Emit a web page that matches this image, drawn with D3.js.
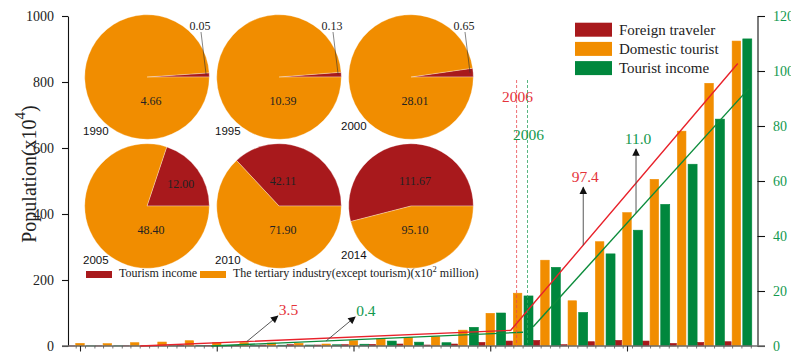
<!DOCTYPE html>
<html>
<head>
<meta charset="utf-8">
<script src="https://cdn.jsdelivr.net/npm/d3@7/dist/d3.min.js"></script>
<style>
  html, body { margin: 0; padding: 0; background: #fff; }
  svg { display: block; }
</style>
</head>
<body>
<svg id="chart" width="791" height="359" font-family="Liberation Serif, Times New Roman, serif"></svg>
<script>
// ---- data ----
const years = [1990, 1991, 1992, 1993, 1994, 1995, 1996, 1997, 1998, 1999,
               2000, 2001, 2002, 2003, 2004, 2005, 2006, 2007, 2008, 2009,
               2010, 2011, 2012, 2013, 2014];

// Population (x10^4), left axis
const foreignTraveler = [0.3, 0.4, 0.6, 0.8, 1.2, 1.5, 2, 3, 4, 3,
                         4, 5, 6, 3, 6, 11, 15, 17, 4, 13,
                         17, 15, 8, 11, 13];
const domesticTourist = [8, 7, 10, 12, 16, 10, 10, 9, 8, 6,
                         16, 21, 26, 28, 48, 99, 160, 260, 137, 316,
                         404, 505, 651, 796, 924];

// Tourist income (x10^2 million), right axis
const touristIncome = [0.05, 0.06, 0.08, 0.1, 0.12, 0.13, 0.2, 0.3, 0.35, 0.45,
                       0.65, 1.8, 1.4, 1.2, 6.8, 12.00, 18.2, 28.6, 12.2, 33.5,
                       42.11, 51.5, 66.1, 82.5, 111.67];

// Pie breakdowns (x10^2 million)
const pieYears = [1990, 1995, 2000, 2005, 2010, 2014];
const pieTourismIncome = [0.05, 0.13, 0.65, 12.00, 42.11, 111.67];
const pieTertiaryOther = [4.66, 10.39, 28.01, 48.40, 71.90, 95.10];

// Axis ticks
const leftTicks = [0, 200, 400, 600, 800, 1000];
const rightTicks = [0, 20, 40, 60, 80, 100, 120];
const majorYearTicks = [1990, 1995, 2000, 2005, 2010];

// Piecewise linear trend fits: [year, value]
const domesticTrend = [[1992.2, 0], [2005.75, 47.5], [2014.05, 856]];
const incomeTrendEarly = [[1994.8, 0], [2006.2, 5.0]];
const incomeTrendLate = [[2006.57, 7.0], [2014.45, 93.6]];
const breakYear = 2006;

// Slope annotations: which trend, year where the arrow leaves the line, label
const slopeNotes = [
  { trend: "domestic", year: 1996.1, label: "3.5",  dx: 31, dy: -25.5 },
  { trend: "income",   year: 1999.0, label: "0.4",  dx: 29, dy: -24 },
  { trend: "domestic", year: 2008.4, label: "97.4", dx: 0,  dy: -58 },
  { trend: "income",   year: 2010.33, label: "11.0", dx: 0, dy: -64 }
];

// ---- styling ----
const SERIF = "Liberation Serif, Times New Roman, serif";
const SANS = "Liberation Sans, Arial, sans-serif";
const C = {
  foreign: "#A8191C",
  domestic: "#F18D00",
  income: "#00873D",
  redLine: "#E8222B",
  greenLine: "#0B8C3B",
  redText: "#E5333B",
  greenText: "#12994F"
};

const svg = d3.select("#chart");
const base = 346, topY = 16;

const x = d3.scaleLinear().domain([1990, 2014]).range([80, 736.4]);
const yL = d3.scaleLinear().domain([0, 1000]).range([base, topY]);
const yR = d3.scaleLinear().domain([0, 120]).range([base, topY]);

// ---- bars ----
const series = [
  { values: foreignTraveler, scale: yL, color: C.foreign, dx: -8.5, w: 6.5 },
  { values: domesticTourist, scale: yL, color: C.domestic, dx: 0, w: 8.5 },
  { values: touristIncome, scale: yR, color: C.income, dx: 10.9, w: 9 }
];

series.forEach(s => {
  svg.append("g").selectAll("rect")
    .data(years.map((yr, i) => ({ yr, v: s.values[i] })))
    .join("rect")
    .attr("x", d => x(d.yr) + s.dx - s.w / 2)
    .attr("width", s.w)
    .attr("y", d => s.scale(d.v))
    .attr("height", d => base - s.scale(d.v))
    .attr("fill", s.color)
    .attr("stroke", s.color)
    .attr("stroke-width", 0.6);
});

// ---- axes ----
const gL = svg.append("g").attr("transform", "translate(68,0)")
  .call(d3.axisLeft(yL).tickValues(leftTicks).tickFormat(d3.format("d"))
    .tickSize(6).tickSizeOuter(0).tickPadding(8));
gL.select(".domain").attr("stroke", "#111").attr("stroke-width", 1.1);
gL.selectAll(".tick line").attr("stroke", "#111").attr("stroke-width", 1.1);
gL.selectAll(".tick text")
  .style("font-family", SERIF).style("font-size", "14px").attr("fill", "#222");

const gR = svg.append("g").attr("transform", "translate(757.5,0)")
  .call(d3.axisRight(yR).tickValues(rightTicks).tickFormat(d3.format("d"))
    .tickSize(7.5).tickSizeOuter(0).tickPadding(8));
gR.select(".domain").attr("stroke", "#111").attr("stroke-width", 1.1);
gR.selectAll(".tick line").attr("stroke", "#111").attr("stroke-width", 1.1);
gR.selectAll(".tick text")
  .style("font-family", SERIF).style("font-size", "14px").attr("fill", C.greenText);

// baseline
svg.append("line").attr("x1", 62).attr("x2", 765).attr("y1", base).attr("y2", base)
  .attr("stroke", "#6e6e6e").attr("stroke-width", 1.4);

// minor ticks between bars
const minorOffsets = [-3.8, 5.5, 14.9];
svg.append("g").selectAll("line")
  .data(years.flatMap(yr => minorOffsets.map(o => x(yr) + o)).filter(px => px < 757))
  .join("line")
  .attr("x1", d => d).attr("x2", d => d)
  .attr("y1", base).attr("y2", base + 2.5)
  .attr("stroke", "#555").attr("stroke-width", 0.8);

// major year ticks (unlabelled)
const gX = svg.append("g").attr("transform", `translate(0,${base})`)
  .call(d3.axisBottom(x).tickValues(majorYearTicks).tickSize(5.5).tickFormat(""));
gX.select(".domain").remove();
gX.selectAll(".tick line").attr("stroke", "#222").attr("stroke-width", 1.1);

// y-axis title
const title = svg.append("text")
  .attr("transform", "translate(36,174) rotate(-90)")
  .attr("text-anchor", "middle")
  .style("font-family", SERIF)
  .style("font-size", "20px")
  .attr("fill", "#222");
title.append("tspan").text("Population(x10");
title.append("tspan").attr("dy", -11).style("font-size", "15px").text("4");
title.append("tspan").attr("dy", 11).text(")");

// ---- trend lines ----
const lineL = d3.line().x(d => x(d[0])).y(d => yL(d[1]));
const lineR = d3.line().x(d => x(d[0])).y(d => yR(d[1]));

svg.append("path").attr("d", lineL(domesticTrend))
  .attr("fill", "none").attr("stroke", C.redLine).attr("stroke-width", 1.4);
[incomeTrendEarly, incomeTrendLate].forEach(seg => {
  svg.append("path").attr("d", lineR(seg))
    .attr("fill", "none").attr("stroke", C.greenLine).attr("stroke-width", 1.4);
});

// break-year markers
const breakMarks = [
  { dx: 0, color: "#E8474E", textColor: C.redText, ty: 102 },
  { dx: 10.9, color: "#2EA562", textColor: C.greenText, ty: 140 }
];
breakMarks.forEach(b => {
  const bx = x(breakYear) + b.dx - 1;
  svg.append("line").attr("x1", bx).attr("x2", bx).attr("y1", 80).attr("y2", base)
    .attr("stroke", b.color).attr("stroke-width", 0.8).attr("stroke-dasharray", "3,2");
  svg.append("text").attr("x", bx + 1).attr("y", b.ty)
    .attr("text-anchor", "middle").style("font-size", "15.5px")
    .attr("fill", b.textColor).text(String(breakYear));
});

// ---- slope annotations ----
const defs = svg.append("defs");
defs.append("marker")
  .attr("id", "arrowHead")
  .attr("viewBox", "0 0 10 10")
  .attr("refX", 9).attr("refY", 5)
  .attr("markerUnits", "userSpaceOnUse")
  .attr("markerWidth", 8.5).attr("markerHeight", 7.5)
  .attr("orient", "auto")
  .append("path").attr("d", "M0,0 L10,5 L0,10 Z").attr("fill", "#111");

function trendY(trend, yr) {
  if (trend === "domestic") {
    const pts = domesticTrend;
    for (let i = 0; i < pts.length - 1; i++) {
      if (yr <= pts[i + 1][0]) {
        const t = (yr - pts[i][0]) / (pts[i + 1][0] - pts[i][0]);
        return yL(pts[i][1] + t * (pts[i + 1][1] - pts[i][1]));
      }
    }
  }
  const seg = yr <= incomeTrendEarly[1][0] ? incomeTrendEarly : incomeTrendLate;
  const t = (yr - seg[0][0]) / (seg[1][0] - seg[0][0]);
  return yR(seg[0][1] + t * (seg[1][1] - seg[0][1]));
}

slopeNotes.forEach(n => {
  const x0 = x(n.year), y0 = trendY(n.trend, n.year);
  const x1 = x0 + n.dx, y1 = y0 + n.dy;
  svg.append("line")
    .attr("x1", x0).attr("y1", y0).attr("x2", x1).attr("y2", y1)
    .attr("stroke", "#444").attr("stroke-width", 0.9)
    .attr("marker-end", "url(#arrowHead)");
  const color = n.trend === "domestic" ? C.redText : C.greenText;
  const vertical = n.dx === 0;
  svg.append("text")
    .attr("x", vertical ? x1 + 2 : x1 + 1)
    .attr("y", vertical ? y1 - 5 : y1 - 1)
    .attr("text-anchor", vertical ? "middle" : "start")
    .style("font-size", "15.5px")
    .attr("fill", color)
    .text(n.label);
});

// ---- pies ----
const pieCols = [147, 279, 411], pieRows = [77, 206], R = 62.3;
const arc = d3.arc().innerRadius(0).outerRadius(R);

pieYears.forEach((yr, i) => {
  const col = i % 3;
  const cx = pieCols[col], cy = pieRows[Math.floor(i / 3)];
  const inc = pieTourismIncome[i], other = pieTertiaryOther[i];
  const frac = inc / (inc + other);
  const a0 = Math.PI / 2 - 2 * Math.PI * frac;
  const arcs = d3.pie().sort(null).value(d => d)
    .startAngle(a0).endAngle(a0 + 2 * Math.PI)([inc, other]);

  const g = svg.append("g").attr("transform", `translate(${cx},${cy})`);
  g.selectAll("path").data(arcs).join("path")
    .attr("d", arc)
    .attr("fill", (d, k) => k === 0 ? C.foreign : C.domestic)
    .attr("stroke", "#fff").attr("stroke-width", 0.5).attr("stroke-opacity", 0.6);

  // tertiary-industry value below the centre
  g.append("text").attr("x", 4).attr("y", 27.5)
    .attr("text-anchor", "middle").style("font-size", "12px").attr("fill", "#222")
    .text(other.toFixed(2));

  // tourism income value
  const mid = (arcs[0].startAngle + arcs[0].endAngle) / 2;
  if (frac < 0.05) {
    const ex = Math.sin(mid) * R * 0.95, ey = -Math.cos(mid) * R * 0.95;
    g.append("line").attr("x1", 54).attr("y1", -45).attr("x2", ex).attr("y2", ey)
      .attr("stroke", "#333").attr("stroke-width", 0.6);
    g.append("text").attr("x", 53).attr("y", -47.5)
      .attr("text-anchor", "middle").style("font-size", "12px").attr("fill", "#222")
      .text(inc.toFixed(2));
  } else if (frac < 0.3) {
    const c = d3.arc().innerRadius(0).outerRadius(R * 1.3).centroid(arcs[0]);
    g.append("text").attr("x", c[0] + 1).attr("y", c[1] + 6)
      .attr("text-anchor", "middle").style("font-size", "12px").attr("fill", "#222")
      .text(inc.toFixed(2));
  } else {
    g.append("text").attr("x", 4).attr("y", -21)
      .attr("text-anchor", "middle").style("font-size", "12px").attr("fill", "#222")
      .text(inc.toFixed(2));
  }

  // year caption, lower-left of each pie
  g.append("text")
    .attr("x", col === 2 ? -70 : -64)
    .attr("y", col === 2 ? 53 : 57.5)
    .style("font-family", SANS)
    .style("font-size", "11.5px").attr("fill", "#111")
    .text(String(yr));
});

// pie legend
const pieLegend = [
  { color: C.foreign, x: 86, label: "Tourism income" },
  { color: C.domestic, x: 200, label: "The tertiary industry(except tourism)(x10", sup: "2", tail: " million)" }
];
pieLegend.forEach(l => {
  svg.append("rect").attr("x", l.x).attr("y", 271).attr("width", 26).attr("height", 7)
    .attr("fill", l.color);
  const t = svg.append("text").attr("x", l.x + 33).attr("y", 277.3)
    .style("font-size", "12px").attr("fill", "#222");
  t.append("tspan").text(l.label);
  if (l.sup) {
    t.append("tspan").attr("dy", -5).style("font-size", "8.5px").text(l.sup);
    t.append("tspan").attr("dy", 5).text(l.tail);
  }
});

// ---- series legend ----
const legendItems = [
  { color: C.foreign, label: "Foreign traveler" },
  { color: C.domestic, label: "Domestic tourist" },
  { color: C.income, label: "Tourist income" }
];
legendItems.forEach((l, i) => {
  const ly = 22.7 + i * 19.2;
  svg.append("rect").attr("x", 575).attr("y", ly).attr("width", 37).attr("height", 14)
    .attr("fill", l.color);
  svg.append("text").attr("x", 619).attr("y", ly + 12.3)
    .style("font-size", "15px").attr("fill", "#222").text(l.label);
});
</script>
</body>
</html>
